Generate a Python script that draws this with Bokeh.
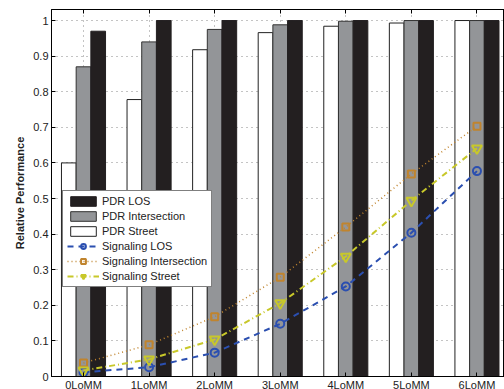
from bokeh.plotting import figure
from bokeh.models import (Range1d, LinearAxis, Legend, LegendItem, FixedTicker,
                          CustomJSTickFormatter)
from bokeh.embed import file_html
from bokeh.resources import INLINE

categories = ["0LoMM", "1LoMM", "2LoMM", "3LoMM", "4LoMM", "5LoMM", "6LoMM"]
pdr_los = [0.97, 1.0, 1.0, 1.0, 1.0, 1.0, 1.0]
pdr_intersection = [0.87, 0.94, 0.975, 0.988, 0.998, 1.0, 1.0]
pdr_street = [0.60, 0.778, 0.918, 0.966, 0.984, 0.993, 1.0]
sig_los = [0.012, 0.026, 0.067, 0.148, 0.253, 0.404, 0.577]
sig_intersection = [0.038, 0.089, 0.168, 0.279, 0.420, 0.569, 0.703]
sig_street = [0.017, 0.048, 0.104, 0.206, 0.337, 0.494, 0.641]
y_ticks = [0, 0.1, 0.2, 0.3, 0.4, 0.5, 0.6, 0.7, 0.8, 0.9, 1.0]

xs = list(range(len(categories)))
bw = 0.224

FONT = "Liberation Sans"

p = figure(width=504, frame_height=367, output_backend="svg", toolbar_location=None,
           x_range=Range1d(-0.488, 6.42), y_range=Range1d(0, 1.031),
           min_border_left=51, min_border_right=0, min_border_top=9, min_border_bottom=0,
           x_axis_location=None, y_axis_location=None)
p.background_fill_color = "white"
p.border_fill_color = "white"
p.outline_line_color = "black"
p.outline_line_width = 1

fmt = CustomJSTickFormatter(code="""
const labels = %s;
return labels[Math.round(tick)];
""" % str(categories))

xb = LinearAxis(ticker=FixedTicker(ticks=xs), formatter=fmt)
xt = LinearAxis(ticker=FixedTicker(ticks=xs), formatter=CustomJSTickFormatter(code="return '';"))
yl = LinearAxis(ticker=FixedTicker(ticks=y_ticks),
                formatter=CustomJSTickFormatter(code="return tick.toFixed(1).replace(/\\.0$/, '');"),
                axis_label="Relative Performance")
for ax in (xb, xt, yl):
    ax.major_tick_in = 4
    ax.major_tick_out = 0
    ax.minor_tick_in = 0
    ax.minor_tick_out = 0
    ax.axis_line_color = "black"
    ax.major_tick_line_color = "black"
    ax.major_label_text_font = FONT
    ax.major_label_text_color = "#222222"
    ax.major_label_text_font_size = "11px"
xb.major_label_standoff = 2
xt.major_label_standoff = 0
yl.major_label_standoff = 3
yl.axis_label_text_font = FONT
yl.axis_label_text_font_size = "11px"
yl.axis_label_text_font_style = "bold"
yl.axis_label_standoff = 4
yl.axis_label_text_color = "#222222"
p.add_layout(xb, "below")
p.add_layout(xt, "above")
p.add_layout(yl, "left")

p.xgrid.ticker = FixedTicker(ticks=xs)
p.ygrid.ticker = FixedTicker(ticks=y_ticks)
for g in (p.xgrid, p.ygrid):
    g.grid_line_color = "#888888"
    g.grid_line_dash = "1 4"
    g.grid_line_width = 1

x_street = [x - bw for x in xs]
x_los = [x + bw for x in xs]
r_street = p.vbar(x=x_street, top=pdr_street, width=bw, fill_color="white",
                  line_color="#222222", line_width=1)
r_inter = p.vbar(x=xs, top=pdr_intersection, width=bw, fill_color="#939598",
                 line_color="#333333", line_width=1)
r_los = p.vbar(x=x_los, top=pdr_los, width=bw, fill_color="#231f20",
               line_color="#231f20", line_width=1)

c_los = "#2b4fb0"
c_int = "#c0842e"
c_str = "#c8c82a"
l1 = p.line(xs, sig_los, line_color=c_los, line_width=2, line_dash="6 5")
m1 = p.scatter(xs, sig_los, marker="circle", size=8, fill_color=None,
               line_color=c_los, line_width=2)
l2 = p.line(xs, sig_intersection, line_color=c_int, line_width=1.5, line_dash="1 3")
m2 = p.scatter(xs, sig_intersection, marker="square", size=7, fill_color=None,
               line_color=c_int, line_width=2)
l3 = p.line(xs, sig_street, line_color=c_str, line_width=2, line_dash="6 3 1 3")
m3 = p.scatter(xs, sig_street, marker="inverted_triangle", size=10, fill_color=None,
               line_color=c_str, line_width=2)

legend = Legend(items=[
    LegendItem(label="PDR LOS", renderers=[r_los]),
    LegendItem(label="PDR Intersection", renderers=[r_inter]),
    LegendItem(label="PDR Street", renderers=[r_street]),
    LegendItem(label="Signaling LOS", renderers=[l1, m1]),
    LegendItem(label="Signaling Intersection", renderers=[l2, m2]),
    LegendItem(label="Signaling Street", renderers=[l3, m3]),
], location=(11, 89))
legend.label_text_font = FONT
legend.label_text_font_size = "11px"
legend.label_text_color = "#222222"
legend.glyph_width = 32
legend.glyph_height = 12
legend.label_height = 12
legend.label_standoff = 3
legend.spacing = 3
legend.padding = 4
legend.margin = 0
legend.border_line_color = "black"
legend.border_line_width = 1
legend.background_fill_alpha = 1
p.add_layout(legend, "center")

open("out.html", "w").write(file_html(p, INLINE))
